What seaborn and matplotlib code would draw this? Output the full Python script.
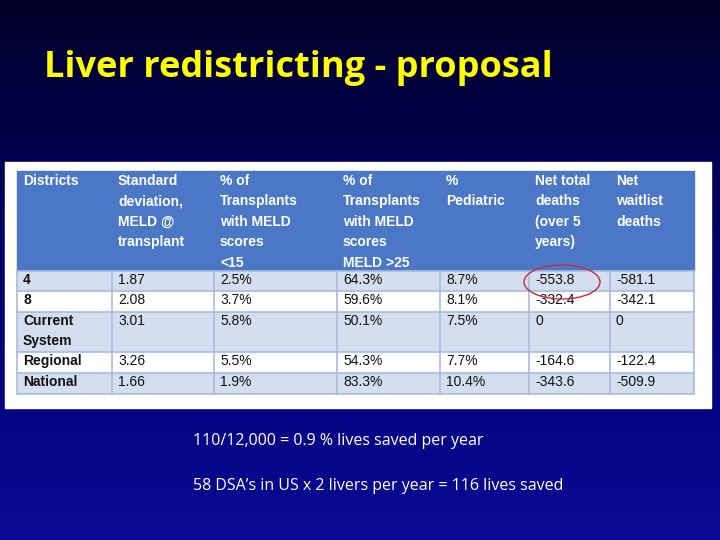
import matplotlib
matplotlib.use("Agg")
import matplotlib.pyplot as plt
from matplotlib.patches import Rectangle, Ellipse
import numpy as np
import seaborn as sns

sns.set_theme(style="white")
plt.rcParams["font.family"] = ["Liberation Sans", "DejaVu Sans"]

title = "Liver redistricting - proposal"
headers = [
    "Districts",
    "Standard\ndeviation,\nMELD @\ntransplant",
    "% of\nTransplants\nwith MELD\nscores\n<15",
    "% of\nTransplants\nwith MELD\nscores\nMELD >25",
    "%\nPediatric",
    "Net total\ndeaths\n(over 5\nyears)",
    "Net\nwaitlist\ndeaths",
]
districts = ["4", "8", "Current\nSystem", "Regional", "National"]
std_dev = ["1.87", "2.08", "3.01", "3.26", "1.66"]
pct_low = ["2.5%", "3.7%", "5.8%", "5.5%", "1.9%"]
pct_high = ["64.3%", "59.6%", "50.1%", "54.3%", "83.3%"]
pct_ped = ["8.7%", "8.1%", "7.5%", "7.7%", "10.4%"]
net_total = ["-553.8", "-332.4", "0", "-164.6", "-343.6"]
net_waitlist = ["-581.1", "-342.1", "0", "-122.4", "-509.9"]
notes = [
    "110/12,000 = 0.9 % lives saved per year",
    "58 DSA\u2019s in US x 2 livers per year = 116 lives saved",
]

fig = plt.figure(figsize=(7.2, 5.4), dpi=100)
ax = fig.add_axes([0, 0, 1, 1])
ax.set_xlim(0, 720)
ax.set_ylim(540, 0)
ax.axis("off")

# background gradient
grad = np.linspace(0, 1, 256).reshape(-1, 1)
cmap = matplotlib.colors.LinearSegmentedColormap.from_list("bg", ["#000028", "#00006e", "#0a0a96"])
ax.imshow(grad, cmap=cmap, extent=[0, 720, 540, 0], aspect="auto", zorder=0)

ax.text(44, 68, title, color="#ffff00", fontsize=26, fontweight="bold",
        family=["Open Sans", "DejaVu Sans"], va="center", ha="left")

# white panel
ax.add_patch(Rectangle((5, 162), 706, 246, color="white", zorder=1))

col_x = [17, 112, 214, 337, 440, 529, 610, 694]
row_y = [171, 271, 291, 312, 352, 373, 394]
grid = "#a9bbdc"
header_bg = "#4a78c6"
light = "#d3deef"

ax.add_patch(Rectangle((col_x[0], row_y[0]), col_x[-1] - col_x[0], row_y[1] - row_y[0],
                       color=header_bg, zorder=2))
for i, h in enumerate(headers):
    ax.text(col_x[i] + 6, row_y[0] + 3, h, color="white", fontsize=10, fontweight="bold",
            va="top", ha="left", linespacing=1.58, zorder=3)

columns = [districts, std_dev, pct_low, pct_high, pct_ped, net_total, net_waitlist]
for r in range(len(districts)):
    y0, y1 = row_y[r + 1], row_y[r + 2]
    fc = light if r % 2 == 0 else "white"
    ax.add_patch(Rectangle((col_x[0], y0), col_x[-1] - col_x[0], y1 - y0,
                           facecolor=fc, edgecolor="none", zorder=2))
    for c, col in enumerate(columns):
        ax.text(col_x[c] + 6, y0 + 2, col[r], color="#111111", fontsize=10,
                fontweight="bold" if c == 0 else "normal", va="top", ha="left",
                linespacing=1.5, zorder=3)

# grid lines (body only)
for x in col_x:
    ax.plot([x, x], [row_y[1], row_y[-1]], color=grid, lw=1.2, zorder=4)
for y in row_y[1:]:
    ax.plot([col_x[0], col_x[-1]], [y, y], color=grid, lw=1.2, zorder=4)

ax.add_patch(Ellipse((562, 282), 76, 34, fill=False, edgecolor="#c0303a", lw=1, zorder=5))

ax.text(193, 441, notes[0], color="white", fontsize=11.5, family=["Open Sans", "DejaVu Sans"],
        va="center", ha="left")
ax.text(193, 486, notes[1], color="white", fontsize=11.5, family=["Open Sans", "DejaVu Sans"],
        va="center", ha="left")

fig.savefig("out.png", dpi=100)
